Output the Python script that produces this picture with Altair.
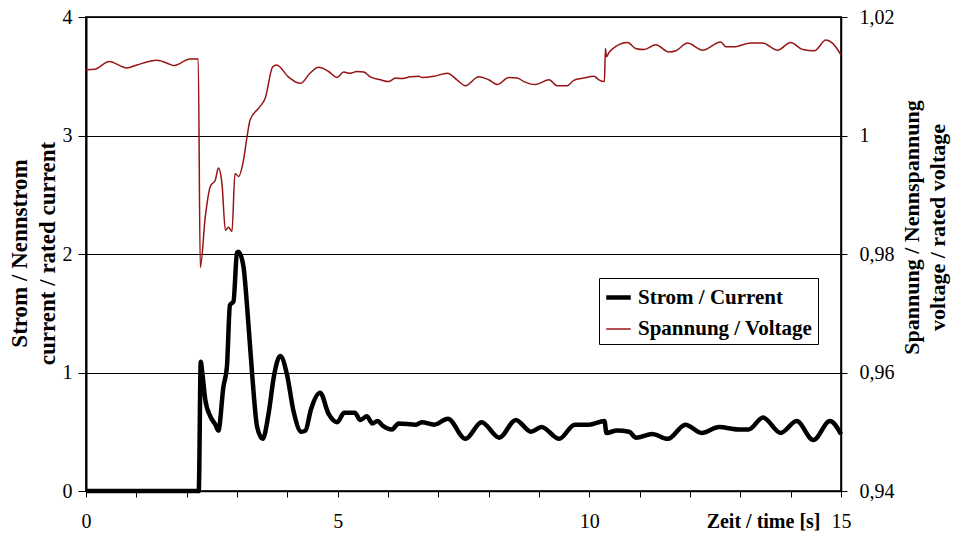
import altair as alt
import pandas as pd

# ---- data ----
series_names = ["Strom / Current", "Spannung / Voltage"]

cur_t = [0.0, 2.24, 2.28, 2.31, 2.37, 2.47, 2.57, 2.63, 2.73, 2.80,
         2.86, 2.93, 3.00, 3.03, 3.13, 3.20, 3.30, 3.40, 3.51, 3.63,
         3.73, 3.86, 3.99, 4.12, 4.28, 4.36, 4.47, 4.65, 4.82, 4.99,
         5.13, 5.34, 5.45, 5.58, 5.69, 5.79, 5.90, 6.08, 6.21, 6.56,
         6.67, 6.92, 7.19, 7.54, 7.86, 8.21, 8.54, 8.84, 9.05, 9.40,
         9.71, 9.99, 10.30, 10.34, 10.55, 10.79, 10.93, 11.25, 11.56, 11.91,
         12.23, 12.58, 12.96, 13.17, 13.45, 13.80, 14.12, 14.45, 14.78, 15.0]
cur_i = [0.0, 0.0, 1.09, 1.00, 0.77, 0.63, 0.56, 0.51, 0.88, 1.05,
         1.57, 1.60, 2.01, 2.02, 1.89, 1.56, 0.99, 0.54, 0.44, 0.66,
         0.96, 1.14, 0.99, 0.68, 0.50, 0.51, 0.69, 0.83, 0.65, 0.58,
         0.66, 0.66, 0.60, 0.63, 0.57, 0.59, 0.55, 0.52, 0.57, 0.56,
         0.58, 0.56, 0.61, 0.44, 0.58, 0.45, 0.60, 0.50, 0.54, 0.44,
         0.56, 0.56, 0.59, 0.49, 0.51, 0.50, 0.45, 0.48, 0.44, 0.56,
         0.49, 0.54, 0.52, 0.52, 0.62, 0.49, 0.59, 0.43, 0.59, 0.48]

volt_t = [0.0, 0.18, 0.46, 0.81, 1.01, 1.41, 1.67, 1.74, 2.07, 2.23,
          2.27, 2.37, 2.47, 2.57, 2.63, 2.70, 2.77, 2.83, 2.90, 2.96,
          3.03, 3.13, 3.20, 3.26, 3.46, 3.56, 3.71, 3.79, 4.02, 4.26,
          4.45, 4.62, 4.82, 4.99, 5.12, 5.25, 5.38, 5.52, 5.65, 5.85,
          6.01, 6.15, 6.25, 6.45, 6.61, 6.68, 6.91, 7.18, 7.37, 7.54,
          7.80, 8.00, 8.17, 8.40, 8.57, 8.70, 8.93, 9.20, 9.36, 9.56,
          9.69, 9.89, 10.09, 10.19, 10.30, 10.32, 10.34, 10.39, 10.52, 10.76,
          10.92, 11.09, 11.32, 11.58, 11.72, 11.95, 12.25, 12.61, 12.71, 12.91,
          13.08, 13.21, 13.44, 13.74, 14.00, 14.24, 14.47, 14.70, 14.83, 15.0]
volt_v = [1.0111, 1.0112, 1.0125, 1.0114, 1.0119, 1.0127, 1.0120, 1.0118, 1.0129, 1.0129,
          0.9777, 0.9863, 0.9914, 0.9925, 0.9945, 0.9920, 0.9840, 0.9845, 0.9838, 0.9936,
          0.9931, 0.9959, 0.9998, 1.0026, 1.0049, 1.0063, 1.0116, 1.0119, 1.0099, 1.0088,
          1.0105, 1.0115, 1.0108, 1.0098, 1.0107, 1.0105, 1.0108, 1.0107, 1.0099, 1.0094,
          1.0091, 1.0097, 1.0096, 1.0099, 1.0100, 1.0098, 1.0100, 1.0105, 1.0094, 1.0084,
          1.0099, 1.0094, 1.0086, 1.0098, 1.0097, 1.0091, 1.0086, 1.0094, 1.0084, 1.0084,
          1.0093, 1.0097, 1.0100, 1.0094, 1.0091, 1.0147, 1.0133, 1.0140, 1.0150, 1.0157,
          1.0147, 1.0145, 1.0153, 1.0141, 1.0143, 1.0156, 1.0144, 1.0158, 1.0150, 1.0150,
          1.0154, 1.0156, 1.0156, 1.0144, 1.0157, 1.0145, 1.0143, 1.0161, 1.0156, 1.0136]

x_ticks = list(range(16))
left_ticks = [0, 1, 2, 3, 4]
right_ticks = [0.94, 0.96, 0.98, 1.0, 1.02]

cur_df = pd.DataFrame({"t": cur_t, "val": cur_i, "series": series_names[0]})
volt_df = pd.DataFrame({"t": volt_t, "val": volt_v, "series": series_names[1]})

FONT = "Liberation Serif"

color = alt.Color(
    "series:N",
    scale=alt.Scale(domain=series_names, range=["#000000", "#961414"]),
    legend=alt.Legend(title=None),
)
sw = alt.StrokeWidth(
    "series:N",
    scale=alt.Scale(domain=series_names, range=[4.5, 1.5]),
    legend=alt.Legend(title=None),
)

xenc = alt.X(
    "t:Q",
    scale=alt.Scale(domain=[0, 15], nice=False, zero=False),
    axis=alt.Axis(
        values=x_ticks,
        labelExpr="datum.value % 5 == 0 ? datum.label : ''",
        title="Zeit / time [s]",
        titleFont=FONT, titleFontSize=20, titleFontWeight="bold", titleColor="black",
        titleX=734, titleY=40, titleAlign="right", titleBaseline="bottom",
        labelFont=FONT, labelFontSize=20, labelColor="black", labelPadding=14,
        tickSize=6, tickColor="black", domainColor="black", domainWidth=1.5,
        grid=False, labelFlush=False,
    ),
)

current = alt.Chart(cur_df).mark_line(interpolate="monotone", strokeJoin="round").encode(
    x=xenc,
    y=alt.Y(
        "val:Q",
        scale=alt.Scale(domain=[0, 4], nice=False),
        axis=alt.Axis(
            orient="left", values=left_ticks,
            labelFont=FONT, labelFontSize=20, labelColor="black", labelPadding=6,
            tickSize=8, tickColor="black", domainColor="black", domainWidth=2,
            grid=True, gridColor="black", gridWidth=1,
            title=["Strom / Nennstrom", "current / rated current"],
            titleFont=FONT, titleFontSize=23, titleFontWeight="bold", titleColor="black",
            titleAngle=270, titleX=-78, titleY=236, titleAlign="center",
            titleBaseline="top", titleLineHeight=28,
        ),
    ),
    color=color,
    strokeWidth=sw,
)

voltage = alt.Chart(volt_df).mark_line(interpolate="monotone", strokeJoin="round").encode(
    x=xenc,
    y=alt.Y(
        "val:Q",
        scale=alt.Scale(domain=[0.94, 1.02], nice=False, zero=False),
        axis=alt.Axis(
            orient="right", values=right_ticks,
            labelExpr="replace(format(datum.value, '.2~f'), '.', ',')",
            labelFont=FONT, labelFontSize=20, labelColor="black", labelPadding=12,
            tickSize=6, tickColor="black", domainColor="black", domainWidth=1.5,
            grid=False,
            title=["Spannung / Nennspannung", "voltage / rated voltage"],
            titleFont=FONT, titleFontSize=22, titleFontWeight="bold", titleColor="black",
            titleAngle=270, titleX=60, titleY=210, titleAlign="center",
            titleBaseline="top", titleLineHeight=26,
        ),
    ),
    color=color,
    strokeWidth=sw,
)

chart = (
    alt.layer(current, voltage)
    .resolve_scale(y="independent")
    .properties(
        width=755, height=474,
        autosize=alt.AutoSizeParams(type="none"),
        padding={"left": 78, "top": 9, "right": 110, "bottom": 41},
        background="white",
    )
    .configure(font=FONT)
    .configure_view(stroke="#333333", strokeWidth=2)
    .configure_legend(
        orient="none", legendX=513, legendY=261,
        padding=5, strokeColor="black", fillColor="white", cornerRadius=0,
        labelFont=FONT, labelFontSize=21, labelFontWeight="bold", labelColor="black",
        symbolType="stroke", symbolSize=600, rowPadding=8, labelOffset=5,
        labelLimit=300,
    )
)

chart.save("out.html", embed_options={"renderer": "svg", "actions": False})
